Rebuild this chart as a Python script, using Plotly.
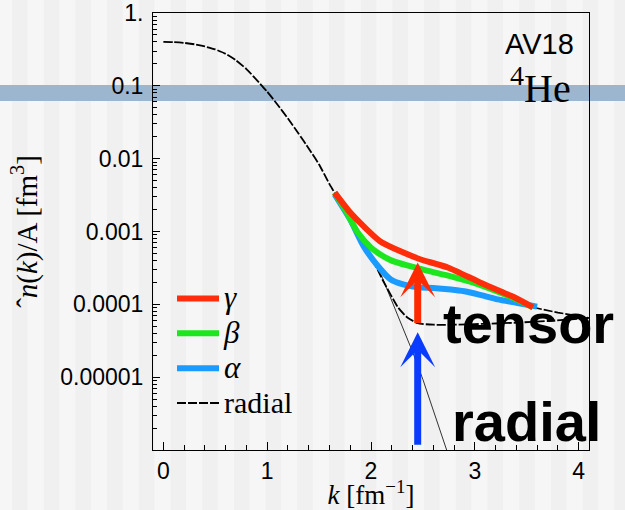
import plotly.graph_objects as go

# ---- data ----
k_radial = [0, 0.1, 0.2, 0.3, 0.4, 0.5, 0.6, 0.7, 0.8, 0.9, 1.0, 1.1, 1.2, 1.3, 1.4, 1.5,
            1.6, 1.65, 1.8, 2.0, 2.11, 2.26, 2.35, 2.45, 2.6, 2.8, 3.1, 3.4, 3.7, 4.1]
n_radial = [0.401, 0.398, 0.389, 0.372, 0.347, 0.316, 0.275, 0.224, 0.170, 0.120, 0.0832,
            0.0550, 0.0355, 0.0224, 0.0138, 0.00832, 0.00447, 0.0034, 1.41e-3, 4.57e-4,
            2.19e-4, 9.1e-5, 6.6e-5, 5.5e-5, 5.25e-5, 5.25e-5, 5.4e-5, 5.6e-5, 5.9e-5, 6.5e-5]

k_tail = [3.56, 3.8, 4.1]
n_tail = [9.1e-5, 7.7e-5, 6.5e-5]

k_thin = [1.65, 1.8, 1.95, 2.1, 2.26, 2.4, 2.5, 2.6, 2.73, 2.8]
n_thin = [3.4e-3, 1.41e-3, 6.0e-4, 2.5e-4, 6.9e-5, 2.24e-5, 9.3e-6, 3.5e-6, 1.0e-6, 5e-7]

k_gamma = [1.65, 1.80, 1.93, 2.09, 2.29, 2.48, 2.74, 3.05, 3.38, 3.56]
n_gamma = [3.42e-3, 1.82e-3, 1.175e-3, 7.3e-4, 5.3e-4, 4.13e-4, 3.21e-4, 2.0e-4, 1.25e-4, 9.1e-5]

k_beta = [1.65, 1.75, 1.87, 2.0, 2.09, 2.2, 2.35, 2.55, 2.77, 3.0, 3.21, 3.4, 3.56]
n_beta = [3.42e-3, 2.0e-3, 9.8e-4, 6.0e-4, 4.84e-4, 3.98e-4, 3.42e-4, 2.88e-4, 2.42e-4,
          1.95e-4, 1.51e-4, 1.17e-4, 9.1e-5]

k_alpha = [1.65, 1.80, 1.93, 2.07, 2.19, 2.31, 2.45, 2.60, 2.77, 2.90, 3.05, 3.22, 3.40, 3.60]
n_alpha = [3.24e-3, 1.46e-3, 6.24e-4, 3.31e-4, 2.2e-4, 1.88e-4, 1.71e-4, 1.68e-4, 1.6e-4,
           1.51e-4, 1.35e-4, 1.17e-4, 1.05e-4, 9.3e-5]

y_tickvals = [1, 0.1, 0.01, 0.001, 0.0001, 0.00001]
y_ticktext = ["1.", "0.1", "0.01", "0.001", "0.0001", "0.00001"]
x_tickvals = [0, 1, 2, 3, 4]

RED = "#ff2d0a"
GREEN = "#1ee61e"
BLUE = "#1a9bff"

fig = go.Figure()

# background decorations: faint vertical stripes and a horizontal blue band
PLOT_L, PLOT_W = 153, 436
PLOT_B, PLOT_H = 450, 437
shapes = []
for i in range(21):
    px0 = 12 + 31.7 * i
    shapes.append(dict(type="rect", xref="paper", yref="paper",
                       x0=(px0 - PLOT_L) / PLOT_W, x1=(px0 + 15.5 - PLOT_L) / PLOT_W,
                       y0=-0.2, y1=1.1, fillcolor="#f0f0f0", line=dict(width=0),
                       layer="below"))
shapes.append(dict(type="rect", xref="paper", yref="paper",
                   x0=-0.5, x1=1.2,
                   y0=(PLOT_B - 101) / PLOT_H, y1=(PLOT_B - 85) / PLOT_H,
                   fillcolor="rgb(155,182,206)", line=dict(width=0), layer="below"))

fig.add_trace(go.Scatter(x=k_thin, y=n_thin, mode="lines", showlegend=False,
                         line=dict(color="black", width=0.8), hoverinfo="skip"))
fig.add_trace(go.Scatter(x=k_radial, y=n_radial, mode="lines",
                         name='<span style="font-size:30px">radial</span>',
                         legendrank=4,
                         line=dict(color="black", width=1.8, dash="9px,2px",
                                   shape="spline", smoothing=0.5)))
fig.add_trace(go.Scatter(x=k_tail, y=n_tail, mode="lines", showlegend=False,
                         line=dict(color="black", width=1.6, dash="9px,2px")))
fig.add_trace(go.Scatter(x=k_alpha, y=n_alpha, mode="lines",
                         name='<span style="font-size:31px"><i>α</i></span>',
                         legendrank=3,
                         line=dict(color=BLUE, width=6, shape="spline", smoothing=0.6)))
fig.add_trace(go.Scatter(x=k_beta, y=n_beta, mode="lines",
                         name='<span style="font-size:31px"><i>β</i></span>',
                         legendrank=2,
                         line=dict(color=GREEN, width=6, shape="spline", smoothing=0.6)))
fig.add_trace(go.Scatter(x=k_gamma, y=n_gamma, mode="lines",
                         name='<span style="font-size:31px"><i>γ</i></span>',
                         legendrank=1,
                         line=dict(color=RED, width=6, shape="spline", smoothing=0.6)))

annotations = [
    dict(xref="paper", yref="paper", x=(576 - PLOT_L) / PLOT_W, y=(PLOT_B - 44) / PLOT_H,
         text="AV18", showarrow=False, xanchor="right", yanchor="middle",
         font=dict(family="Liberation Sans", size=29, color="black")),
    dict(xref="paper", yref="paper", x=(573 - PLOT_L) / PLOT_W, y=(PLOT_B - 85) / PLOT_H,
         text="<sup>4</sup>He", showarrow=False, xanchor="right", yanchor="middle",
         font=dict(family="Liberation Serif", size=40, color="black")),
    dict(xref="paper", yref="paper", x=(441 - PLOT_L) / PLOT_W, y=(PLOT_B - 323) / PLOT_H,
         text="<b>tensor</b>", showarrow=False, xanchor="left", yanchor="middle",
         font=dict(family="Liberation Sans", size=56, color="black")),
    dict(xref="paper", yref="paper", x=(450 - PLOT_L) / PLOT_W, y=(PLOT_B - 421) / PLOT_H,
         text="<b>radial</b>", showarrow=False, xanchor="left", yanchor="middle",
         font=dict(family="Liberation Sans", size=56, color="black")),
    # arrows
    dict(xref="x", yref="y", x=2.45, y=-3.425, ax=0, ay=62, text="", showarrow=True,
         arrowhead=3, arrowwidth=7, arrowsize=0.83, arrowcolor="#ff2a00", standoff=0),
    dict(xref="x", yref="y", x=2.45, y=-4.384, ax=0, ay=114, text="", showarrow=True,
         arrowhead=3, arrowwidth=7, arrowsize=0.83, arrowcolor="#0a3cff", standoff=0),
]

y_minor = [m * 10.0 ** e for e in range(-6, 0) for m in range(2, 10)]

fig.update_layout(
    width=625, height=510,
    margin=dict(l=PLOT_L, r=625 - PLOT_L - PLOT_W, t=13, b=510 - PLOT_B),
    paper_bgcolor="#f6f6f6", plot_bgcolor="rgba(0,0,0,0)",
    shapes=shapes, annotations=annotations,
    legend=dict(x=(172 - PLOT_L) / PLOT_W, y=(PLOT_B - 276) / PLOT_H,
                xanchor="left", yanchor="top", bgcolor="rgba(0,0,0,0)",
                font=dict(family="Liberation Serif", size=24.5, color="black"),
                tracegroupgap=0, itemwidth=42),
    font=dict(family="Liberation Sans", color="black"),
)

fig.update_xaxes(
    range=[-0.1, 4.1], tickvals=x_tickvals, ticks="inside", ticklen=8,
    tickcolor="black", tickwidth=1, showgrid=False, zeroline=False, automargin=False,
    showline=True, linecolor="black", linewidth=1, mirror=True,
    tickfont=dict(family="Liberation Sans", size=23, color="black"),
    minor=dict(dtick=0.2, tick0=0, ticks="inside", ticklen=5, tickcolor="black",
               showgrid=False),
    title=dict(text="<i>k</i> [fm<sup>−1</sup>]",
               font=dict(family="Liberation Serif", size=27, color="black"), standoff=3),
)
fig.update_yaxes(
    type="log", range=[-6, 0], tickvals=y_tickvals, ticktext=y_ticktext,
    ticks="inside", ticklen=7, tickcolor="black", tickwidth=1, automargin=False,
    showgrid=False, zeroline=False, showline=True, linecolor="black", linewidth=1,
    mirror=True, ticklabelstandoff=4,
    tickfont=dict(family="Liberation Sans", size=23, color="black"),
    minor=dict(tickvals=y_minor, ticks="inside", ticklen=4, tickcolor="black",
               showgrid=False),
    title=dict(text="ˆ<i>n</i>(<i>k</i>)/A [fm<sup>3</sup>]",
               font=dict(family="Liberation Serif", size=29, color="black"), standoff=14),
)

fig.write_html("out.html")
